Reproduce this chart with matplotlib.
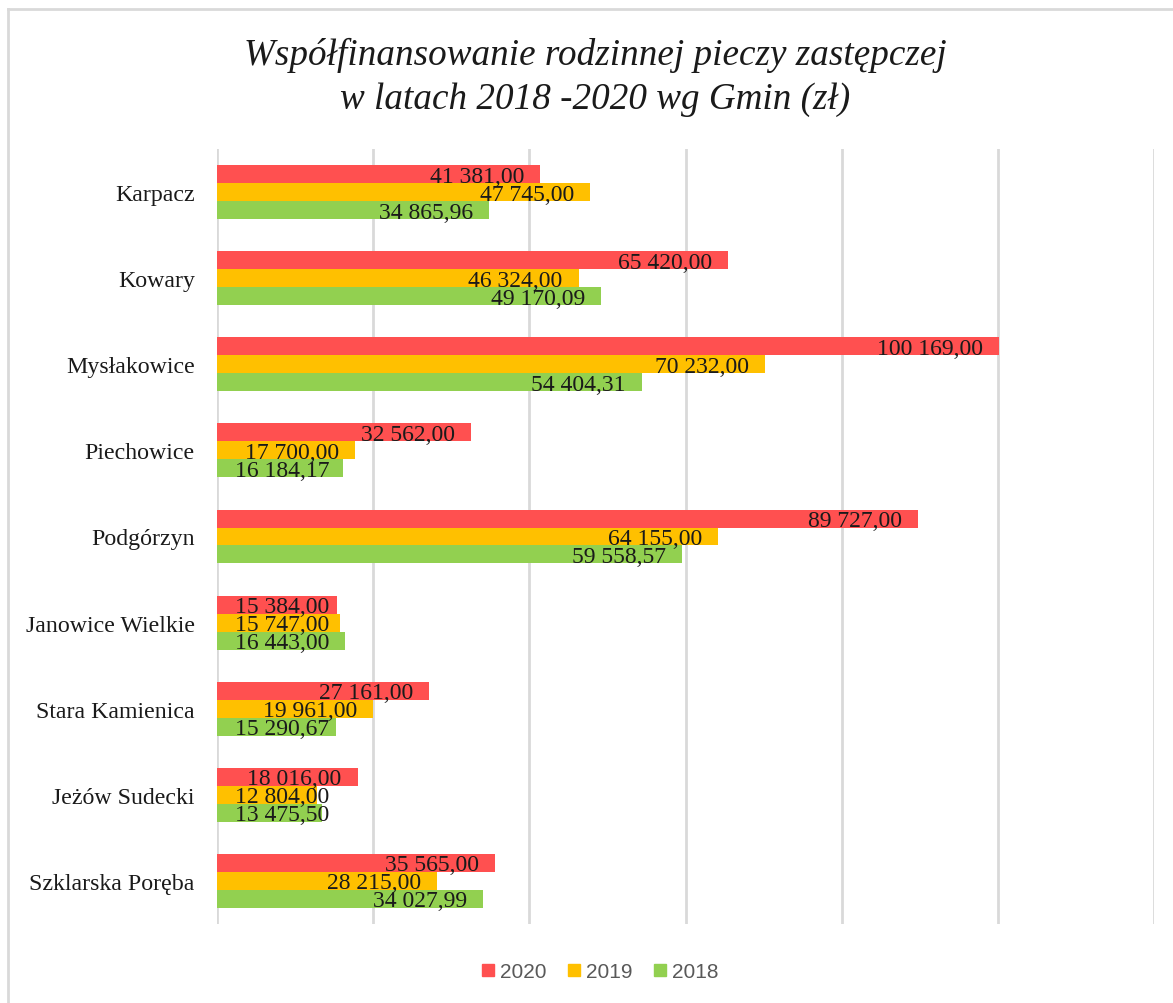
import matplotlib.pyplot as plt
from matplotlib.lines import Line2D
import numpy as np

# dane
gminy = ["Karpacz", "Kowary", "Mysłakowice", "Piechowice", "Podgórzyn",
         "Janowice Wielkie", "Stara Kamienica", "Jeżów Sudecki", "Szklarska Poręba"]
lata = ["2020", "2019", "2018"]
v2020 = [41381.00, 65420.00, 100169.00, 32562.00, 89727.00, 15384.00, 27161.00, 18016.00, 35565.00]
v2019 = [47745.00, 46324.00, 70232.00, 17700.00, 64155.00, 15747.00, 19961.00, 12804.00, 28215.00]
v2018 = [34865.96, 49170.09, 54404.31, 16184.17, 59558.57, 16443.00, 15290.67, 13475.50, 34027.99]
kolory = ["#FF5050", "#FFC000", "#92D050"]


def fmt(v):
    s = f"{v:,.2f}"
    return s.replace(",", " ").replace(".", ",")


fig = plt.figure(figsize=(11.73, 10.04), dpi=100)
ax = fig.add_axes([217 / 1173, 1 - 925 / 1004, (1154 - 217) / 1173, (925 - 150) / 1004])

y = np.arange(len(gminy))
h = 0.209
etykiety = []
for i, (vals, kol) in enumerate(zip([v2020, v2019, v2018], kolory)):
    pos = y + (i - 1) * h
    ax.barh(pos, vals, height=h, color=kol, label=lata[i], zorder=2)
    for p, v in zip(pos, vals):
        t = ax.annotate(fmt(v), (v, p), xytext=(-16, -2), textcoords="offset pixels",
                        ha="right", va="center", fontsize=17,
                        family="Liberation Serif", color="#1a1a1a", zorder=3)
        etykiety.append((t, p))

ax.set_xlim(0, 120000)
ax.set_ylim(len(gminy) - 0.5, -0.5)
ax.set_xticks(np.arange(0, 120001, 20000))
ax.set_xticklabels([])
ax.grid(axis="x", color="#d9d9d9", linewidth=2, zorder=0)
ax.tick_params(axis="both", length=0)
ax.tick_params(axis="y", pad=16)
ax.set_yticks(y)
ax.set_yticklabels(gminy, fontsize=17.2, family="Liberation Serif", color="#1a1a1a")
for s in ax.spines.values():
    s.set_visible(False)

# etykiety krótkich słupków nie wychodzą na lewo od osi
fig.canvas.draw()
r = fig.canvas.get_renderer()
x0_osi = ax.transData.transform((0, 0))[0]
for t, p in etykiety:
    if t.get_window_extent(r).x0 < x0_osi + 18:
        t.xy = (0, p)
        t.set_position((18, -2))
        t.set_ha("left")

fig.text(595 / 1173, 1 - 55 / 1004, "Współfinansowanie rodzinnej pieczy zastępczej",
         ha="center", va="center", fontsize=26.7, style="italic",
         family="Liberation Serif", color="#1a1a1a")
fig.text(595 / 1173, 1 - 100 / 1004, "w latach 2018 -2020 wg Gmin (zł)",
         ha="center", va="center", fontsize=26.7, style="italic",
         family="Liberation Serif", color="#1a1a1a")

uchwyty = [Line2D([], [], marker="s", linestyle="", markersize=8,
                  markerfacecolor=k, markeredgecolor=k) for k in kolory]
leg = fig.legend(uchwyty, lata, loc="center", bbox_to_anchor=(600 / 1173, 1 - 973 / 1004),
                 ncol=3, frameon=False, handlelength=0.6, handletextpad=0.3,
                 columnspacing=1.0, prop={"family": "Liberation Sans", "size": 15})
for t in leg.get_texts():
    t.set_color("#595959")

# ramka wykresu (lewa i górna krawędź)
fig.add_artist(Line2D([8 / 1173, 8 / 1173], [0, 1 - 10 / 1004], transform=fig.transFigure,
                      color="#d9d9d9", linewidth=2))
fig.add_artist(Line2D([8 / 1173, 1], [1 - 10 / 1004, 1 - 10 / 1004], transform=fig.transFigure,
                      color="#d9d9d9", linewidth=2))

fig.savefig("out.png", dpi=100)
